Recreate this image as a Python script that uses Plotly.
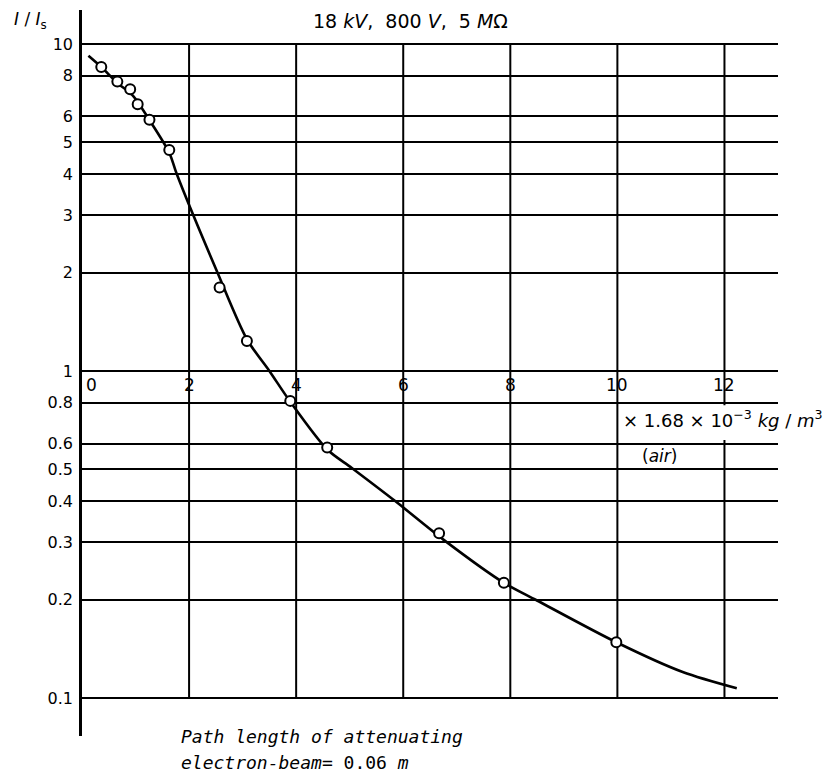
import plotly.graph_objects as go
import math

# Measured attenuation points (relative intensity I/I_s vs. air density multiple)
x_meas = [0.36, 0.66, 0.90, 1.04, 1.26, 1.63, 2.57, 3.08, 3.89, 4.58, 6.67, 7.88, 9.98]
y_meas = [8.5, 7.67, 7.27, 6.54, 5.86, 4.74, 1.80, 1.235, 0.81, 0.583, 0.319, 0.225, 0.148]

# Smooth trend curve through the measurements
x_fit = [0.12, 0.36, 0.66, 0.95, 1.26, 1.63, 1.77, 2.53, 3.08, 3.5, 3.89, 4.58,
         5.04, 5.85, 6.75, 7.88, 8.49, 9.98, 11.22, 12.23]
y_fit = [9.2, 8.5, 7.6, 6.95, 5.85, 4.65, 4.0, 2.0, 1.25, 1.0, 0.805, 0.575,
         0.505, 0.4, 0.305, 0.225, 0.199, 0.148, 0.120, 0.107]

# Axis ticks
y_ticks = [0.1, 0.2, 0.3, 0.4, 0.5, 0.6, 0.8, 1, 2, 3, 4, 5, 6, 8, 10]
y_tick_text = ["0.1", "0.2", "0.3", "0.4", "0.5", "0.6", "0.8",
               "1", "2", "3", "4", "5", "6", "8", "10"]
x_ticks = [0, 2, 4, 6, 8, 10, 12]
x_tick_text = ["0", "2", "4", "6", "8", "10", "12"]

SANS = "DejaVu Sans, sans-serif"
MONO = "DejaVu Sans Mono, monospace"

W, H = 824, 778
ML, MR, MT, MB = 82, 46, 10, 42
PW, PH = W - ML - MR, H - MT - MB


def px(xp):
    return (xp - ML) / PW


def py(yp):
    return (H - MB - yp) / PH


fig = go.Figure()

fig.add_trace(go.Scatter(
    x=x_fit, y=y_fit, mode="lines",
    line=dict(color="black", width=2.6, shape="spline", smoothing=0.8),
    hoverinfo="skip", showlegend=False,
))
fig.add_trace(go.Scatter(
    x=x_meas, y=y_meas, mode="markers",
    marker=dict(symbol="circle", size=10, color="white",
                line=dict(color="black", width=2)),
    showlegend=False,
))

shapes = []
# vertical grid lines between 0.1 and 10
for xv in x_ticks[1:]:
    shapes.append(dict(type="line", xref="x", yref="y", x0=xv, x1=xv,
                       y0=0.1, y1=10,
                       line=dict(color="black", width=2), layer="below"))
# white backing behind the unit label
shapes.append(dict(type="rect", xref="x", yref="y", x0=10.08, x1=12.95,
                   y0=0.615, y1=0.785,
                   fillcolor="white", line=dict(width=0), layer="above"))
fig.update_layout(shapes=shapes)

ann = []
# x tick labels sit just under the I/I_s = 1 line
for xv, t in zip(x_ticks, x_tick_text):
    a = dict(x=xv, y=0, xref="x", yref="y", text=t, showarrow=False,
             xanchor="center", yanchor="top", yshift=-2,
             font=dict(family=SANS, size=17, color="black"))
    if xv == 0:
        a.update(xanchor="left", xshift=2)
    ann.append(a)


def label(xp, yp, text, family=SANS, size=17, xanchor="center"):
    return dict(x=px(xp), y=py(yp), xref="paper", yref="paper",
                showarrow=False, text=text, xanchor=xanchor, yanchor="middle",
                font=dict(family=family, size=size, color="black"))


ann += [
    label(12, 20, "<i>I</i> / <i>I</i><sub>s</sub>", xanchor="left"),
    label(410, 21, "18 <i>kV</i>,  800 <i>V</i>,  5 <i>M</i>Ω", size=19),
    label(621, 419, "× 1.68 × 10<sup>−3</sup> <i>kg</i> / <i>m</i><sup>3</sup>",
          size=18, xanchor="left"),
    label(659, 456, "(<i>air</i>)", size=17),
    label(179, 736, "<i>Path length of attenuating</i>", family=MONO, size=18,
          xanchor="left"),
    label(179, 762, "<i>electron-beam</i>= 0.06 <i>m</i>", family=MONO, size=18,
          xanchor="left"),
]
fig.update_layout(annotations=ann)

fig.update_layout(
    width=W, height=H,
    margin=dict(l=ML, r=MR, t=MT, b=MB),
    paper_bgcolor="white", plot_bgcolor="white",
    font=dict(family=SANS, size=16, color="black"),
    xaxis=dict(range=[0, 13], showgrid=False, zeroline=False,
               showticklabels=False, showline=False, ticks=""),
    yaxis=dict(type="log", range=[math.log10(0.0765), math.log10(12.7)],
               tickvals=y_ticks, ticktext=y_tick_text,
               showgrid=True, gridcolor="black", gridwidth=2,
               showline=True, linecolor="black", linewidth=2.5,
               zeroline=False, ticks="", ticklabelstandoff=3,
               tickfont=dict(family=SANS, size=16, color="black")),
)

fig.write_html("out.html")
